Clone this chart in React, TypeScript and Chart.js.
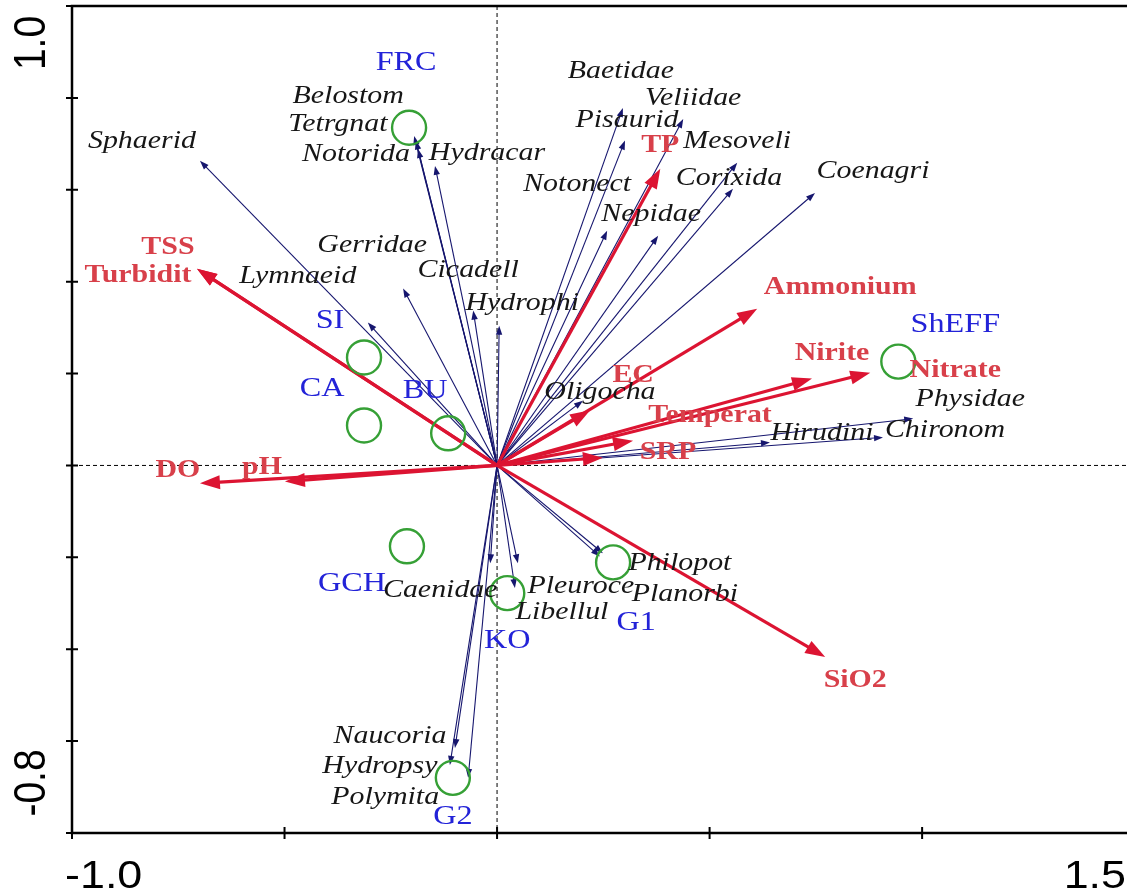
import React, { useEffect, useRef } from 'react';
import { Chart, registerables } from 'chart.js';

Chart.register(...registerables);

// ---- Data (CCA biplot scores) ----
const speciesNames = ['Sphaerid', 'Belostom', 'Tetrgnat', 'Notorida', 'Hydracar', 'Gerridae', 'Lymnaeid', 'Cicadell', 'Hydrophi', 'Baetidae', 'Veliidae', 'Pisaurid', 'Mesoveli', 'Corixida', 'Coenagri', 'Notonect', 'Nepidae', 'Oligocha', 'Hirudini', 'Chironom', 'Physidae', 'Philopot', 'Planorbi', 'Pleuroce', 'Libellul', 'Caenidae', 'Naucoria', 'Hydropsy', 'Polymita'];
const speciesX = [-0.699, -0.195, -0.191, -0.186, -0.146, -0.221, -0.304, -0.056, 0.005, 0.296, 0.438, 0.301, 0.565, 0.555, 0.748, 0.259, 0.379, 0.202, 0.642, 0.908, 0.979, 0.249, 0.242, 0.049, 0.042, -0.016, -0.099, -0.111, -0.068];
const speciesY = [0.663, 0.717, 0.707, 0.689, 0.652, 0.385, 0.311, 0.337, 0.304, 0.778, 0.754, 0.707, 0.659, 0.602, 0.593, 0.511, 0.500, 0.141, 0.050, 0.061, 0.102, -0.191, -0.198, -0.213, -0.267, -0.213, -0.615, -0.652, -0.680];

const envNames = ['TSS', 'Turbidit', 'DO', 'pH', 'TP', 'Ammonium', 'EC', 'Nirite', 'Nitrate', 'Temperat', 'SRP', 'SiO2'];
const envX = [-0.706, -0.706, -0.699, -0.499, 0.384, 0.612, 0.219, 0.741, 0.878, 0.320, 0.249, 0.772];
const envY = [0.428, 0.428, -0.039, -0.035, 0.646, 0.341, 0.120, 0.189, 0.202, 0.054, 0.017, -0.417];

const siteNames = ['FRC', 'SI', 'CA', 'BU', 'ShEFF', 'GCH', 'KO', 'G1', 'G2'];
const siteX = [-0.207, -0.313, -0.313, -0.115, 0.944, -0.212, 0.024, 0.273, -0.104];
const siteY = [0.735, 0.235, 0.087, 0.070, 0.226, -0.176, -0.278, -0.211, -0.680];

const xTickValues = [-1.0, -0.5, 0, 0.5, 1.0];
const yTickValues = [-0.8, -0.6, -0.4, -0.2, 0, 0.2, 0.4, 0.6, 0.8, 1.0];
const xTickLabels = ['-1.0', '1.5'];
const yTickLabels = ['1.0', '-0.8'];

// ---- Label placement (pixel offsets from the mark) ----
const speciesLabelOffsets: [number, number][] = [
  [-58, -20], [-66, -40], [-78, -16], [-62, 5], [52, -13], [-31, -43], [-70, -46], [-5, -40], [23, -23],
  [-2, -37], [10, -21], [2, -20], [0, -21], [-4, -11], [58, -22], [-30, -46], [-7, -22], [17, -8],
  [52, -9], [62, -7], [57, -19], [77, 10], [85, 38], [63, 23], [47, 24], [-50, 27], [-65, -12], [-70, 1], [-83, 19],
];
const envLabelOffsets: [number, number][] = [
  [-29, -22], [-59, 6], [-22, -13], [-23, -14], [0, -23], [83, -21], [43, -35], [20, -25], [85, -2], [77, -25], [65, -5], [30, 23],
];
const siteLabelOffsets: [number, number][] = [
  [-3, -65], [-34, -37], [-42, -37], [-23, -43], [57, -37], [-55, 37], [0, 47], [23, 60], [0, 39],
];

const STRETCH = 1.15;
const NAVY = '#16166e';
const RED = '#dc1432';
const RED_TEXT = '#d8404a';
const BLUE_TEXT = '#2323d8';
const GREEN = '#36a036';

function drawText(ctx: CanvasRenderingContext2D, text: string, x: number, y: number, font: string, color: string) {
  ctx.save();
  ctx.translate(x, y);
  ctx.scale(STRETCH, 1);
  ctx.font = font;
  ctx.fillStyle = color;
  ctx.textAlign = 'center';
  ctx.textBaseline = 'middle';
  ctx.fillText(text, 0, 0);
  ctx.restore();
}

function drawArrow(ctx: CanvasRenderingContext2D, x0: number, y0: number, x1: number, y1: number, color: string, lw: number, hl: number, hw: number) {
  const dx = x1 - x0, dy = y1 - y0;
  const len = Math.hypot(dx, dy) || 1;
  const ux = dx / len, uy = dy / len;
  const bx = x1 - ux * hl, by = y1 - uy * hl;
  ctx.save();
  ctx.strokeStyle = color;
  ctx.fillStyle = color;
  ctx.lineWidth = lw;
  ctx.beginPath();
  ctx.moveTo(x0, y0);
  ctx.lineTo(x1 - ux * hl * 0.6, y1 - uy * hl * 0.6);
  ctx.stroke();
  ctx.beginPath();
  ctx.moveTo(x1, y1);
  ctx.lineTo(bx - uy * hw, by + ux * hw);
  ctx.lineTo(bx + uy * hw, by - ux * hw);
  ctx.closePath();
  ctx.fill();
  ctx.restore();
}

const biplotPlugin = {
  id: 'biplot',
  beforeDatasetsDraw(chart: any) {
    const { ctx, chartArea, scales } = chart;
    const xs = scales.x, ys = scales.y;
    const ox = xs.getPixelForValue(0), oy = ys.getPixelForValue(0);
    ctx.save();
    // dashed zero lines
    ctx.strokeStyle = '#000';
    ctx.lineWidth = 1;
    ctx.setLineDash([4, 3]);
    ctx.beginPath();
    ctx.moveTo(ox, chartArea.top);
    ctx.lineTo(ox, chartArea.bottom);
    ctx.moveTo(chartArea.left, oy);
    ctx.lineTo(chartArea.right, oy);
    ctx.stroke();
    ctx.setLineDash([]);
    // species arrows
    speciesX.forEach((v, i) => {
      drawArrow(ctx, ox, oy, xs.getPixelForValue(v), ys.getPixelForValue(speciesY[i]), NAVY, 1.1, 9, 3.2);
    });
    // environmental arrows
    envX.forEach((v, i) => {
      drawArrow(ctx, ox, oy, xs.getPixelForValue(v), ys.getPixelForValue(envY[i]), RED, 3.2, 20, 7);
    });
    ctx.restore();
  },
  afterDatasetsDraw(chart: any) {
    const { ctx, chartArea, scales } = chart;
    const xs = scales.x, ys = scales.y;
    ctx.save();
    // labels
    speciesNames.forEach((n, i) => {
      const px = xs.getPixelForValue(speciesX[i]), py = ys.getPixelForValue(speciesY[i]);
      const [dx, dy] = speciesLabelOffsets[i];
      drawText(ctx, n, px + dx, py + dy, 'italic 26px "Liberation Serif", "Times New Roman", serif', '#161616');
    });
    envNames.forEach((n, i) => {
      const px = xs.getPixelForValue(envX[i]), py = ys.getPixelForValue(envY[i]);
      const [dx, dy] = envLabelOffsets[i];
      drawText(ctx, n, px + dx, py + dy, 'bold 26px "Liberation Serif", "Times New Roman", serif', RED_TEXT);
    });
    siteNames.forEach((n, i) => {
      const px = xs.getPixelForValue(siteX[i]), py = ys.getPixelForValue(siteY[i]);
      const [dx, dy] = siteLabelOffsets[i];
      drawText(ctx, n, px + dx, py + dy, '28px "Liberation Serif", "Times New Roman", serif', BLUE_TEXT);
    });
    // frame
    ctx.strokeStyle = '#000';
    ctx.lineWidth = 2.5;
    ctx.beginPath();
    ctx.moveTo(chartArea.right, chartArea.top);
    ctx.lineTo(chartArea.left, chartArea.top);
    ctx.lineTo(chartArea.left, chartArea.bottom);
    ctx.lineTo(chartArea.right, chartArea.bottom);
    ctx.stroke();
    // ticks
    ctx.lineWidth = 2;
    ctx.beginPath();
    yTickValues.forEach((v) => {
      const py = ys.getPixelForValue(v);
      ctx.moveTo(chartArea.left - 6, py);
      ctx.lineTo(chartArea.left + 6, py);
    });
    xTickValues.forEach((v) => {
      const px = xs.getPixelForValue(v);
      ctx.moveTo(px, chartArea.bottom - 6);
      ctx.lineTo(px, chartArea.bottom + 6);
    });
    ctx.stroke();
    // tick labels
    const axFont = '39px "Liberation Sans", Arial, sans-serif';
    ctx.save();
    ctx.font = axFont;
    const w10 = ctx.measureText(xTickLabels[0]).width * STRETCH;
    const w15 = ctx.measureText(xTickLabels[1]).width * STRETCH;
    ctx.restore();
    drawText(ctx, xTickLabels[0], 65 + w10 / 2, chartArea.bottom + 44, axFont, '#000');
    drawText(ctx, xTickLabels[1], chartArea.right - w15 / 2 - 1, chartArea.bottom + 44, axFont, '#000');
    const drawRot = (t: string, cy: number) => {
      ctx.save();
      ctx.translate(33, cy);
      ctx.scale(STRETCH, 1);
      ctx.rotate(-Math.PI / 2);
      ctx.font = axFont;
      ctx.fillStyle = '#000';
      ctx.textAlign = 'center';
      ctx.textBaseline = 'middle';
      ctx.fillText(t, 0, 0);
      ctx.restore();
    };
    drawRot(yTickLabels[0], 43);
    drawRot(yTickLabels[1], 783);
    ctx.restore();
  },
};

export default function App() {
  const canvasRef = useRef<HTMLCanvasElement | null>(null);
  useEffect(() => {
    if (!canvasRef.current) return;
    const chart = new Chart(canvasRef.current, {
      type: 'scatter',
      data: {
        datasets: [
          {
            label: 'Sites',
            data: siteX.map((x, i) => ({ x, y: siteY[i] })),
            pointRadius: 17,
            pointBorderWidth: 2.4,
            pointBorderColor: GREEN,
            pointBackgroundColor: 'rgba(0,0,0,0)',
          },
          {
            label: 'Species',
            data: speciesX.map((x, i) => ({ x, y: speciesY[i] })),
            pointRadius: 0,
          },
          {
            label: 'Environment',
            data: envX.map((x, i) => ({ x, y: envY[i] })),
            pointRadius: 0,
          },
        ],
      },
      options: {
        animation: false,
        responsive: true,
        maintainAspectRatio: false,
        layout: { autoPadding: false, padding: { left: 72, right: 0, top: 6, bottom: 61 } },
        plugins: { legend: { display: false }, tooltip: { enabled: false } },
        scales: {
          x: { type: 'linear', min: -1.0, max: 1.482, display: false },
          y: { type: 'linear', min: -0.8, max: 1.0, display: false },
        },
      },
      plugins: [biplotPlugin],
    });
    return () => chart.destroy();
  }, []);
  return (
    <div style={{ position: 'fixed', left: 0, top: 0, width: 1127, height: 894, background: '#fff' }}>
      <canvas ref={canvasRef} />
    </div>
  );
}
